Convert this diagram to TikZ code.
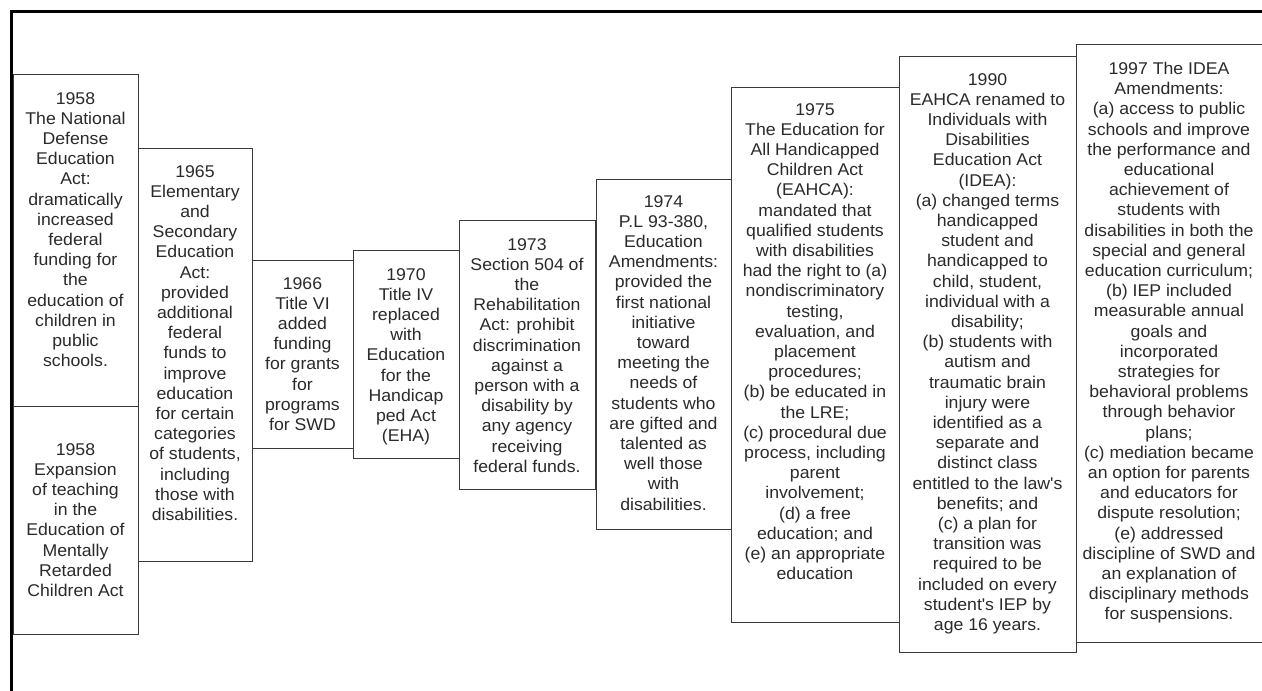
\documentclass[tikz,border=0pt]{standalone}
\usepackage{fontspec}
\setmainfont{Liberation Sans}[FakeStretch=1.04]
\definecolor{boxgray}{HTML}{3A3A3A}
\definecolor{txtgray}{HTML}{2A2A2A}
\tikzset{
  box/.style={draw=boxgray, line width=1.3pt, fill=white, inner sep=0pt, anchor=north west},
  txt/.style={align=center, inner sep=0pt, anchor=north, text=txtgray, font=\fontsize{17}{20.2}\selectfont},
  frame/.style={draw=black, line width=2.5pt}
}
\begin{document}
\begin{tikzpicture}[x=1pt,y=-1pt]
\useasboundingbox (0,0) rectangle (1262,691);
\clip (0,0) rectangle (1262,691);
\fill[white] (0,0) rectangle (1262,691);
\draw[frame] (11.5,695) -- (11.5,11.5) -- (1270,11.5);

\node[box, minimum width=125pt, minimum height=332pt] (b1) at (13,74) {};
\node[box, minimum width=125pt, minimum height=228pt] (b2) at (13,406) {};
\node[box, minimum width=114pt, minimum height=413pt] (b3) at (138,148) {};
\node[box, minimum width=101pt, minimum height=188pt] (b4) at (252,260) {};
\node[box, minimum width=106pt, minimum height=208pt] (b5) at (353,250) {};
\node[box, minimum width=136pt, minimum height=269pt] (b6) at (459,220) {};
\node[box, minimum width=135pt, minimum height=350pt] (b7) at (596,179) {};
\node[box, minimum width=168pt, minimum height=535pt] (b8) at (731,87) {};
\node[box, minimum width=177pt, minimum height=596pt] (b9) at (899,56) {};
\node[box, minimum width=192pt, minimum height=598pt] (b10) at (1076,44) {};

\node[txt] (t1) at (75.5,92) {1958\\The National\\Defense\\Education\\Act:\\dramatically\\increased\\federal\\funding for\\the\\education of\\children in\\public\\schools.};
\node[txt] (t2) at (75.5,443) {1958\\Expansion\\of teaching\\in the\\Education of\\Mentally\\Retarded\\Children Act};
\node[txt] (t3) at (195,165) {1965\\Elementary\\and\\Secondary\\Education\\Act:\\provided\\additional\\federal\\funds to\\improve\\education\\for certain\\categories\\of students,\\including\\those with\\disabilities.};
\node[txt] (t4) at (302.5,277) {1966\\Title VI\\added\\funding\\for grants\\for\\programs\\for SWD};
\node[txt] (t5) at (406,268) {1970\\Title IV\\replaced\\with\\Education\\for the\\Handicap\\ped Act\\(EHA)};
\node[txt] (t6) at (527,238) {1973\\Section 504 of\\the\\Rehabilitation\\Act: prohibit\\discrimination\\against a\\person with a\\disability by\\any agency\\receiving\\federal funds.};
\node[txt] (t7) at (663.5,195) {1974\\P.L 93-380,\\Education\\Amendments:\\provided the\\first national\\initiative\\toward\\meeting the\\needs of\\students who\\are gifted and\\talented as\\well those\\with\\disabilities.};
\node[txt] (t8) at (815,103) {1975\\The Education for\\All Handicapped\\Children Act\\(EAHCA):\\mandated that\\qualified students\\with disabilities\\had the right to (a)\\nondiscriminatory\\testing,\\evaluation, and\\placement\\procedures;\\(b) be educated in\\the LRE;\\(c) procedural due\\process, including\\parent\\involvement;\\(d) a free\\education; and\\(e) an appropriate\\education};
\node[txt] (t9) at (987.5,73) {1990\\EAHCA renamed to\\Individuals with\\Disabilities\\Education Act\\(IDEA):\\(a) changed terms\\handicapped\\student and\\handicapped to\\child, student,\\individual with a\\disability;\\(b) students with\\autism and\\traumatic brain\\injury were\\identified as a\\separate and\\distinct class\\entitled to the law\textquotesingle s\\benefits; and\\(c) a plan for\\transition was\\required to be\\included on every\\student\textquotesingle s IEP by\\age 16 years.};
\node[txt] (t10) at (1169,62) {1997 The IDEA\\Amendments:\\(a) access to public\\schools and improve\\the performance and\\educational\\achievement of\\students with\\disabilities in both the\\special and general\\education curriculum;\\(b) IEP included\\measurable annual\\goals and\\incorporated\\strategies for\\behavioral problems\\through behavior\\plans;\\(c) mediation became\\an option for parents\\and educators for\\dispute resolution;\\(e) addressed\\discipline of SWD and\\an explanation of\\disciplinary methods\\for suspensions.};
\end{tikzpicture}
\end{document}
